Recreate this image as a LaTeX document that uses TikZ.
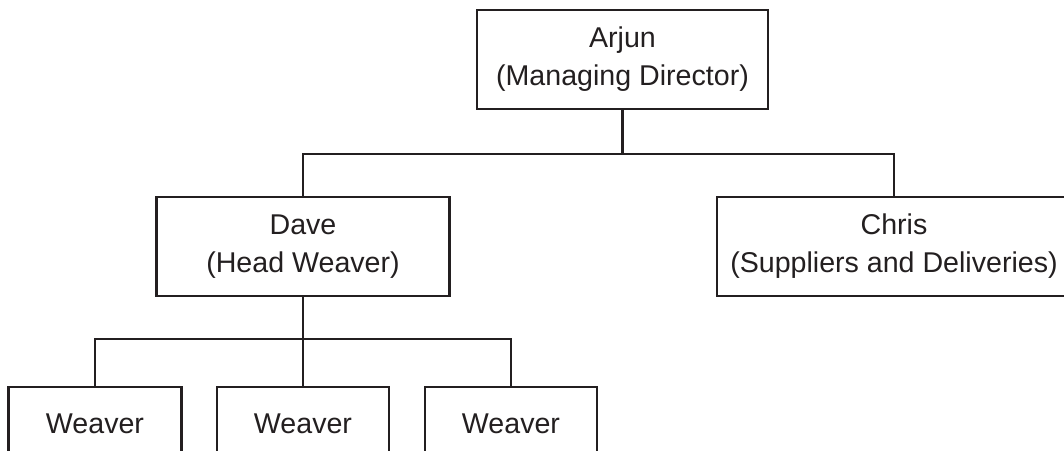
\documentclass[tikz,border=0pt]{standalone}
\usepackage{fontspec}
\setmainfont{Liberation Sans}
\definecolor{ink}{HTML}{231F20}
\begin{document}
\begin{tikzpicture}[x=1pt,y=-1pt,
  box/.style={draw=ink,line width=2.1pt,fill=white,text=ink,align=center,
    inner sep=0pt,font=\fontsize{28.6}{38}\selectfont},
  link/.style={draw=ink,line width=2.1pt}]
\useasboundingbox (0,0) rectangle (1064,450);
\clip (0,0) rectangle (1064,450);
\node[box,minimum width=291pt,minimum height=99pt] (arjun) at (622.5,59.5) {Arjun\\(Managing Director)};
\node[box,minimum width=293pt,minimum height=99pt] (dave) at (303,246.5) {Dave\\(Head Weaver)};
\node[box,minimum width=354pt,minimum height=99pt] (chris) at (894,246.5) {Chris\\(Suppliers and Deliveries)};
\node[box,minimum width=173pt,minimum height=74pt,anchor=north] (w1) at (95,386) {Weaver};
\node[box,minimum width=172pt,minimum height=74pt,anchor=north] (w2) at (303,386) {Weaver};
\node[box,minimum width=172pt,minimum height=74pt,anchor=north] (w3) at (511,386) {Weaver};
\coordinate (j1) at (622.5,154);
\coordinate (j2) at (303,339);
\draw[link] (arjun.south) -- (j1);
\draw[link] (j1) -| (dave.north);
\draw[link] (j1) -| (chris.north);
\draw[link] (dave.south) -- (w2.north);
\draw[link] (j2) -| (w1.north);
\draw[link] (j2) -| (w3.north);
\end{tikzpicture}
\end{document}
